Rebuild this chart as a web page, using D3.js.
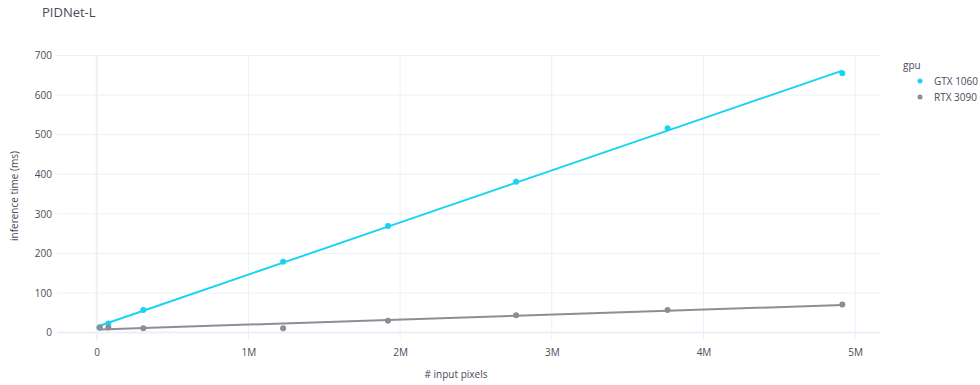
<!DOCTYPE html>
<html>
<head>
<meta charset="utf-8">
<script src="https://cdn.jsdelivr.net/npm/d3@7"></script>
<style>
  html, body { margin: 0; padding: 0; background: #fff; }
  svg { display: block; font-family: "Open Sans", "DejaVu Sans", sans-serif; }
</style>
</head>
<body>
<svg id="chart" width="980" height="385"></svg>
<script>
// ---- data ----
const pixels = [19200, 76800, 307200, 1228800, 1920000, 2764800, 3763200, 4915200];
const gtx1060 = [13, 23, 57, 179, 269, 381, 516, 655];
const rtx3090 = [13, 13, 11, 11, 30, 44, 57, 71];
const seriesNames = ["GTX 1060", "RTX 3090"];
const xTickValues = [0, 1e6, 2e6, 3e6, 4e6, 5e6];
const xTickLabels = ["0", "1M", "2M", "3M", "4M", "5M"];
const yTickValues = [0, 100, 200, 300, 400, 500, 600, 700];

// ---- layout ----
const colors = ["#19d3f3", "#8d8d96"];
const plot = { left: 57, right: 880, top: 55, bottom: 340 };
const svg = d3.select("#chart");

const x = d3.scaleLinear().domain([0, 5e6]).range([96.7, 855.2]);
const y = d3.scaleLinear().domain([0, 700]).range([332.6, 55.5]);

const grid = "#EBF0F8";
const textColor = "#4a4a5a";

// gridlines
svg.append("g").selectAll("line").data(yTickValues).join("line")
  .attr("x1", plot.left).attr("x2", plot.right)
  .attr("y1", d => y(d)).attr("y2", d => y(d))
  .attr("stroke", grid).attr("stroke-width", d => d === 0 ? 2 : 1);
svg.append("g").selectAll("line").data(xTickValues).join("line")
  .attr("y1", plot.top).attr("y2", plot.bottom)
  .attr("x1", d => x(d)).attr("x2", d => x(d))
  .attr("stroke", grid).attr("stroke-width", d => d === 0 ? 2 : 1);

// axes (labels only, via d3 axes)
const xAxis = d3.axisBottom(x).tickValues(xTickValues)
  .tickFormat((d, i) => xTickLabels[i]).tickSize(0).tickPadding(9);
const gx = svg.append("g").attr("transform", `translate(0,${plot.bottom})`).call(xAxis);
gx.select(".domain").remove();
gx.selectAll("text").attr("fill", textColor).style("font-size", "10px")
  .style("font-family", '"Open Sans", sans-serif');

const yAxis = d3.axisLeft(y).tickValues(yTickValues).tickSize(0).tickPadding(5);
const gy = svg.append("g").attr("transform", `translate(${plot.left},0)`).call(yAxis);
gy.select(".domain").remove();
gy.selectAll("text").attr("fill", textColor).style("font-size", "10px")
  .style("font-family", '"Open Sans", sans-serif');

// OLS trendlines + markers
const all = [gtx1060, rtx3090];
function ols(xs, ys) {
  const n = xs.length;
  const mx = d3.mean(xs), my = d3.mean(ys);
  let sxy = 0, sxx = 0;
  for (let i = 0; i < n; i++) { sxy += (xs[i] - mx) * (ys[i] - my); sxx += (xs[i] - mx) ** 2; }
  const b = sxy / sxx, a = my - b * mx;
  return xs.map(v => a + b * v);
}
const line = d3.line().x(d => x(d[0])).y(d => y(d[1]));

all.forEach((vals, si) => {
  const g = svg.append("g");
  const pts = pixels.map((p, i) => [p, vals[i]]);
  g.selectAll("circle").data(pts).join("circle")
    .attr("cx", d => x(d[0])).attr("cy", d => y(d[1])).attr("r", 3)
    .attr("fill", colors[si]);
  const fit = ols(pixels, vals);
  g.append("path").datum(pixels.map((p, i) => [p, fit[i]]))
    .attr("d", line).attr("fill", "none")
    .attr("stroke", colors[si]).attr("stroke-width", 2);
});

// title
svg.append("text").attr("x", 42).attr("y", 17).text("PIDNet-L")
  .attr("fill", "#4a4a5a").style("font-size", "13px");

// axis titles
svg.append("text").attr("x", 456).attr("y", 378).attr("text-anchor", "middle")
  .text("# input pixels").attr("fill", textColor).style("font-size", "10px");
svg.append("text").attr("transform", "translate(18,196) rotate(-90)")
  .attr("text-anchor", "middle").text("inference time (ms)")
  .attr("fill", textColor).style("font-size", "10px");

// legend
const lg = svg.append("g");
lg.append("text").attr("x", 903).attr("y", 69).text("gpu")
  .attr("fill", textColor).style("font-size", "10px");
seriesNames.forEach((name, i) => {
  const yy = 81 + i * 16;
  lg.append("circle").attr("cx", 920).attr("cy", yy).attr("r", 2.5).attr("fill", colors[i]);
  lg.append("text").attr("x", 934).attr("y", yy + 3.5).text(name)
    .attr("fill", textColor).style("font-size", "10px");
});
</script>
</body>
</html>
